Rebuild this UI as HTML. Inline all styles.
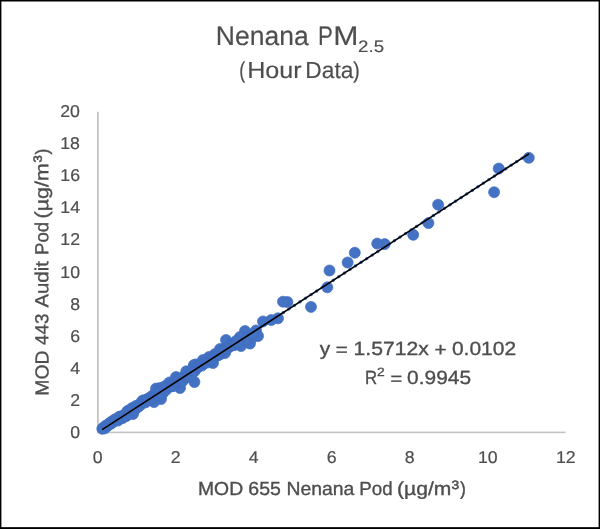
<!DOCTYPE html>
<html><head><meta charset="utf-8"><title>Nenana PM2.5</title>
<style>
html,body{margin:0;padding:0;background:#fff;}
body{width:600px;height:529px;overflow:hidden;position:relative;font-family:"Liberation Sans",sans-serif;}
svg{position:absolute;left:0;top:0;}
text{font-family:"Liberation Sans",sans-serif;fill:#4e4e4e;stroke:#4e4e4e;stroke-width:0.35px;}
.big text{stroke-width:0.15px;}
.tk text{stroke-width:0.2px;}
</style></head><body>
<svg width="600" height="529" viewBox="0 0 600 529" style="will-change:transform">
<rect x="0" y="0" width="600" height="529" fill="#fff"/>
<!-- frame -->
<rect x="0" y="0" width="600" height="1.5" fill="#000"/><rect x="0" y="0" width="1.4" height="529" fill="#000"/><rect x="598.6" y="0" width="1.4" height="529" fill="#000"/><rect x="0" y="527.15" width="600" height="1.85" fill="#000"/>
<!-- axes -->
<rect x="97" y="111.8" width="1.8" height="321.4" fill="#c4c4c4"/>
<rect x="97" y="431.6" width="468.6" height="1.6" fill="#c4c4c4"/>
<g transform="matrix(1 0 0.0005 1 0 0)">
<!-- title -->
<g class="big"><text x="215.71" y="45.0" font-size="26.8" textLength="92.92" lengthAdjust="spacingAndGlyphs">Nenana</text><text x="318.0" y="45.0" font-size="26.8" textLength="14.85" lengthAdjust="spacingAndGlyphs">P</text><text x="333.12" y="45.0" font-size="26.8" textLength="25.17" lengthAdjust="spacingAndGlyphs">M</text><text x="358.07" y="52.2" font-size="16.6" textLength="26.03" lengthAdjust="spacingAndGlyphs">2.5</text>
<text x="239.29" y="77.7" font-size="23.2" textLength="6.08" lengthAdjust="spacingAndGlyphs">(</text><text x="247.1" y="77.7" font-size="23.2" textLength="54.59" lengthAdjust="spacingAndGlyphs">Hour</text><text x="305.27" y="77.7" font-size="23.2" textLength="48.05" lengthAdjust="spacingAndGlyphs">Data</text><text x="352.92" y="77.7" font-size="23.2" textLength="6.86" lengthAdjust="spacingAndGlyphs">)</text></g>
<!-- tick labels -->
<g font-size="17.1" class="tk"><text x="70.05" y="438.1" textLength="9.85" lengthAdjust="spacingAndGlyphs">0</text><text x="70.05" y="406.0" textLength="9.85" lengthAdjust="spacingAndGlyphs">2</text><text x="70.05" y="373.9" textLength="9.85" lengthAdjust="spacingAndGlyphs">4</text><text x="70.05" y="341.8" textLength="9.85" lengthAdjust="spacingAndGlyphs">6</text><text x="70.05" y="309.7" textLength="9.85" lengthAdjust="spacingAndGlyphs">8</text><text x="60.20" y="277.6" textLength="19.70" lengthAdjust="spacingAndGlyphs">10</text><text x="60.20" y="245.5" textLength="19.70" lengthAdjust="spacingAndGlyphs">12</text><text x="60.20" y="213.4" textLength="19.70" lengthAdjust="spacingAndGlyphs">14</text><text x="60.20" y="181.3" textLength="19.70" lengthAdjust="spacingAndGlyphs">16</text><text x="60.20" y="149.2" textLength="19.70" lengthAdjust="spacingAndGlyphs">18</text><text x="60.20" y="117.1" textLength="19.70" lengthAdjust="spacingAndGlyphs">20</text><text x="92.62" y="463.3" textLength="9.85" lengthAdjust="spacingAndGlyphs">0</text><text x="170.62" y="463.3" textLength="9.85" lengthAdjust="spacingAndGlyphs">2</text><text x="248.62" y="463.3" textLength="9.85" lengthAdjust="spacingAndGlyphs">4</text><text x="326.62" y="463.3" textLength="9.85" lengthAdjust="spacingAndGlyphs">6</text><text x="404.62" y="463.3" textLength="9.85" lengthAdjust="spacingAndGlyphs">8</text><text x="477.70" y="463.3" textLength="19.70" lengthAdjust="spacingAndGlyphs">10</text><text x="555.70" y="463.3" textLength="19.70" lengthAdjust="spacingAndGlyphs">12</text></g>
<!-- axis titles -->
<text x="197.77" y="495.3" font-size="18.9" textLength="45.07" lengthAdjust="spacingAndGlyphs">MOD</text><text x="248.07" y="495.3" font-size="18.9" textLength="32.52" lengthAdjust="spacingAndGlyphs">655</text><text x="286.31" y="495.3" font-size="18.9" textLength="67.85" lengthAdjust="spacingAndGlyphs">Nenana</text><text x="359.0" y="495.3" font-size="18.9" textLength="33.34" lengthAdjust="spacingAndGlyphs">Pod</text><text x="396.83" y="495.3" font-size="18.9" textLength="54.31" lengthAdjust="spacingAndGlyphs">(µg/m</text><text x="451.2" y="488.9" font-size="12.0" textLength="7.68" lengthAdjust="spacingAndGlyphs" style="stroke-width:0.55px">3</text><text x="459.73" y="495.3" font-size="18.9" textLength="5.9" lengthAdjust="spacingAndGlyphs">)</text>
<g transform="translate(-51.8,0) rotate(-90)"><text x="-395.69" y="100" font-size="18.9" textLength="45.28" lengthAdjust="spacingAndGlyphs">MOD</text><text x="-344.96" y="100" font-size="18.9" textLength="31.26" lengthAdjust="spacingAndGlyphs">443</text><text x="-307.58" y="100" font-size="18.9" textLength="46.48" lengthAdjust="spacingAndGlyphs">Audit</text><text x="-254.88" y="100" font-size="18.9" textLength="32.94" lengthAdjust="spacingAndGlyphs">Pod</text><text x="-218.41" y="100" font-size="18.9" textLength="55.15" lengthAdjust="spacingAndGlyphs">(µg/m</text><text x="-162.64" y="93.5" font-size="12.0" textLength="7.41" lengthAdjust="spacingAndGlyphs" style="stroke-width:0.55px">3</text><text x="-154.62" y="100" font-size="18.9" textLength="5.95" lengthAdjust="spacingAndGlyphs">)</text></g>
</g>
<!-- points -->
<g fill="#4472c4" stroke="#3e6bbf" stroke-width="0.7"><circle cx="528.8" cy="157.8" r="5.5"/><circle cx="498.7" cy="168.5" r="5.5"/><circle cx="494.1" cy="192.2" r="5.5"/><circle cx="438.1" cy="204.7" r="5.5"/><circle cx="428.4" cy="223.1" r="5.5"/><circle cx="413.2" cy="234.8" r="5.5"/><circle cx="384.7" cy="244.1" r="5.5"/><circle cx="377.2" cy="243.6" r="5.5"/><circle cx="354.8" cy="252.7" r="5.5"/><circle cx="347.6" cy="262.5" r="5.5"/><circle cx="329.5" cy="270.5" r="5.5"/><circle cx="327.3" cy="287.3" r="5.5"/><circle cx="311.0" cy="306.9" r="5.5"/><circle cx="287.4" cy="302.0" r="5.5"/><circle cx="283.0" cy="301.7" r="5.5"/><circle cx="278.0" cy="318.3" r="5.5"/><circle cx="271.2" cy="320.0" r="5.5"/><circle cx="263.0" cy="321.4" r="5.5"/><circle cx="256.0" cy="330.4" r="5.5"/><circle cx="258.0" cy="336.0" r="5.5"/><circle cx="245.0" cy="331.0" r="5.5"/><circle cx="240.0" cy="337.0" r="5.5"/><circle cx="250.0" cy="343.6" r="5.5"/><circle cx="241.0" cy="346.0" r="5.5"/><circle cx="226.0" cy="340.0" r="5.5"/><circle cx="231.0" cy="344.0" r="5.5"/><circle cx="220.0" cy="349.0" r="5.5"/><circle cx="225.0" cy="353.0" r="5.5"/><circle cx="215.0" cy="354.0" r="5.5"/><circle cx="209.0" cy="357.0" r="5.5"/><circle cx="203.0" cy="360.0" r="5.5"/><circle cx="213.0" cy="363.0" r="5.5"/><circle cx="194.0" cy="365.0" r="5.5"/><circle cx="248.0" cy="337.0" r="5.5"/><circle cx="252.0" cy="338.0" r="5.5"/><circle cx="246.0" cy="340.0" r="5.5"/><circle cx="253.0" cy="334.0" r="5.5"/><circle cx="236.0" cy="341.0" r="5.5"/><circle cx="176.0" cy="377.0" r="5.5"/><circle cx="194.0" cy="366.0" r="5.5"/><circle cx="156.0" cy="388.6" r="5.5"/><circle cx="160.0" cy="388.0" r="5.5"/><circle cx="194.4" cy="382.0" r="5.5"/><circle cx="180.0" cy="388.0" r="5.5"/><circle cx="161.0" cy="399.0" r="5.5"/><circle cx="154.0" cy="402.0" r="5.5"/><circle cx="133.0" cy="414.0" r="5.5"/><circle cx="102.3" cy="428.8" r="5.5"/><circle cx="103.5" cy="427.5" r="5.5"/><circle cx="104.7" cy="428.3" r="5.5"/><circle cx="105.9" cy="425.6" r="5.5"/><circle cx="107.1" cy="426.3" r="5.5"/><circle cx="108.3" cy="425.0" r="5.5"/><circle cx="109.5" cy="423.1" r="5.5"/><circle cx="110.7" cy="423.9" r="5.5"/><circle cx="111.9" cy="421.4" r="5.5"/><circle cx="113.1" cy="422.1" r="5.5"/><circle cx="114.3" cy="419.9" r="5.5"/><circle cx="115.5" cy="419.2" r="5.5"/><circle cx="116.7" cy="419.7" r="5.5"/><circle cx="117.9" cy="420.6" r="5.5"/><circle cx="119.1" cy="416.9" r="5.5"/><circle cx="120.3" cy="416.5" r="5.5"/><circle cx="121.5" cy="417.5" r="5.5"/><circle cx="122.7" cy="418.1" r="5.5"/><circle cx="123.9" cy="415.7" r="5.5"/><circle cx="125.1" cy="414.1" r="5.5"/><circle cx="126.3" cy="416.0" r="5.5"/><circle cx="127.5" cy="410.9" r="5.5"/><circle cx="128.7" cy="414.0" r="5.5"/><circle cx="129.9" cy="410.5" r="5.5"/><circle cx="131.1" cy="409.0" r="5.5"/><circle cx="132.3" cy="408.0" r="5.5"/><circle cx="133.5" cy="408.2" r="5.5"/><circle cx="134.7" cy="410.0" r="5.5"/><circle cx="135.9" cy="405.9" r="5.5"/><circle cx="137.1" cy="407.3" r="5.5"/><circle cx="138.3" cy="406.8" r="5.5"/><circle cx="139.5" cy="404.6" r="5.5"/><circle cx="140.7" cy="404.8" r="5.5"/><circle cx="141.9" cy="401.3" r="5.5"/><circle cx="143.1" cy="400.4" r="5.5"/><circle cx="144.3" cy="400.5" r="5.5"/><circle cx="145.5" cy="402.4" r="5.5"/><circle cx="146.7" cy="400.2" r="5.5"/><circle cx="147.9" cy="398.7" r="5.5"/><circle cx="149.1" cy="399.6" r="5.5"/><circle cx="150.3" cy="398.0" r="5.5"/><circle cx="151.5" cy="396.3" r="5.5"/><circle cx="152.7" cy="398.6" r="5.5"/><circle cx="153.9" cy="397.2" r="5.5"/><circle cx="155.1" cy="393.5" r="5.5"/><circle cx="156.3" cy="394.9" r="5.5"/><circle cx="157.5" cy="393.8" r="5.5"/><circle cx="158.7" cy="395.4" r="5.5"/><circle cx="159.9" cy="393.6" r="5.5"/><circle cx="161.1" cy="389.8" r="5.5"/><circle cx="162.3" cy="393.9" r="5.5"/><circle cx="163.5" cy="387.1" r="5.5"/><circle cx="164.7" cy="388.4" r="5.5"/><circle cx="165.9" cy="390.1" r="5.5"/><circle cx="167.1" cy="384.9" r="5.5"/><circle cx="168.3" cy="386.6" r="5.5"/><circle cx="169.5" cy="382.4" r="5.5"/><circle cx="170.7" cy="386.4" r="5.5"/><circle cx="171.9" cy="386.3" r="5.5"/><circle cx="173.1" cy="384.1" r="5.5"/><circle cx="174.3" cy="385.7" r="5.5"/><circle cx="175.5" cy="380.5" r="5.5"/><circle cx="176.7" cy="382.8" r="5.5"/><circle cx="177.9" cy="381.2" r="5.5"/><circle cx="179.1" cy="380.3" r="5.5"/><circle cx="180.3" cy="378.5" r="5.5"/><circle cx="181.5" cy="380.9" r="5.5"/><circle cx="182.7" cy="381.0" r="5.5"/><circle cx="183.9" cy="376.3" r="5.5"/><circle cx="185.1" cy="377.2" r="5.5"/><circle cx="186.3" cy="371.3" r="5.5"/><circle cx="187.5" cy="376.0" r="5.5"/><circle cx="188.7" cy="374.7" r="5.5"/><circle cx="189.9" cy="377.0" r="5.5"/><circle cx="191.1" cy="374.8" r="5.5"/><circle cx="192.3" cy="369.2" r="5.5"/><circle cx="193.5" cy="369.3" r="5.5"/><circle cx="194.7" cy="371.1" r="5.5"/><circle cx="195.9" cy="364.4" r="5.5"/><circle cx="197.1" cy="367.9" r="5.5"/><circle cx="198.3" cy="366.5" r="5.5"/><circle cx="199.5" cy="365.6" r="5.5"/><circle cx="200.7" cy="364.6" r="5.5"/><circle cx="201.9" cy="365.6" r="5.5"/><circle cx="203.1" cy="363.3" r="5.5"/><circle cx="204.3" cy="362.8" r="5.5"/><circle cx="205.5" cy="362.3" r="5.5"/><circle cx="206.7" cy="362.7" r="5.5"/><circle cx="207.9" cy="360.0" r="5.5"/><circle cx="209.1" cy="360.1" r="5.5"/><circle cx="210.3" cy="359.6" r="5.5"/><circle cx="211.5" cy="359.6" r="5.5"/><circle cx="212.7" cy="358.7" r="5.5"/><circle cx="213.9" cy="358.0" r="5.5"/><circle cx="215.1" cy="355.9" r="5.5"/><circle cx="216.3" cy="355.4" r="5.5"/><circle cx="217.5" cy="354.5" r="5.5"/><circle cx="218.7" cy="355.0" r="5.5"/><circle cx="219.9" cy="354.4" r="5.5"/><circle cx="221.1" cy="351.7" r="5.5"/><circle cx="222.3" cy="351.0" r="5.5"/><circle cx="223.5" cy="350.3" r="5.5"/><circle cx="224.7" cy="349.5" r="5.5"/><circle cx="225.9" cy="349.4" r="5.5"/><circle cx="227.1" cy="348.8" r="5.5"/><circle cx="228.3" cy="347.3" r="5.5"/><circle cx="229.5" cy="345.9" r="5.5"/><circle cx="230.7" cy="346.1" r="5.5"/><circle cx="231.9" cy="345.2" r="5.5"/><circle cx="233.1" cy="344.9" r="5.5"/><circle cx="234.3" cy="345.1" r="5.5"/><circle cx="235.5" cy="343.7" r="5.5"/><circle cx="236.7" cy="342.5" r="5.5"/><circle cx="237.9" cy="341.9" r="5.5"/></g>
<!-- trendline -->
<line x1="102.2" y1="429.69" x2="529.0" y2="153.72" stroke="#4472c4" stroke-width="3.2" stroke-dasharray="0.1 6.52" stroke-dashoffset="-3.73" stroke-linecap="round"/>
<line x1="102.2" y1="429.69" x2="529.0" y2="153.72" stroke="#000" stroke-width="1.6"/>
<!-- equation -->
<g transform="matrix(1 0 0.0005 1 0 0)">
<text x="319.61" y="355.4" font-size="19.1" textLength="10.42" lengthAdjust="spacingAndGlyphs">y</text><text x="335.66" y="356.1" font-size="19.1" textLength="12.04" lengthAdjust="spacingAndGlyphs">=</text><text x="353.42" y="355.4" font-size="19.1" textLength="75.21" lengthAdjust="spacingAndGlyphs">1.5712x</text><text x="434.38" y="356.0" font-size="19.1" textLength="12.05" lengthAdjust="spacingAndGlyphs">+</text><text x="451.72" y="355.4" font-size="19.1" textLength="64.25" lengthAdjust="spacingAndGlyphs">0.0102</text>
<text x="364.92" y="384.2" font-size="19.1" textLength="12.1" lengthAdjust="spacingAndGlyphs">R</text><text x="376.87" y="375.8" font-size="12.0" textLength="7.71" lengthAdjust="spacingAndGlyphs" style="stroke-width:0.3px">2</text><text x="390.24" y="384.9" font-size="19.1" textLength="11.71" lengthAdjust="spacingAndGlyphs">=</text><text x="406.93" y="384.2" font-size="19.1" textLength="63.9" lengthAdjust="spacingAndGlyphs">0.9945</text>
</g>
</svg>

</body></html>
